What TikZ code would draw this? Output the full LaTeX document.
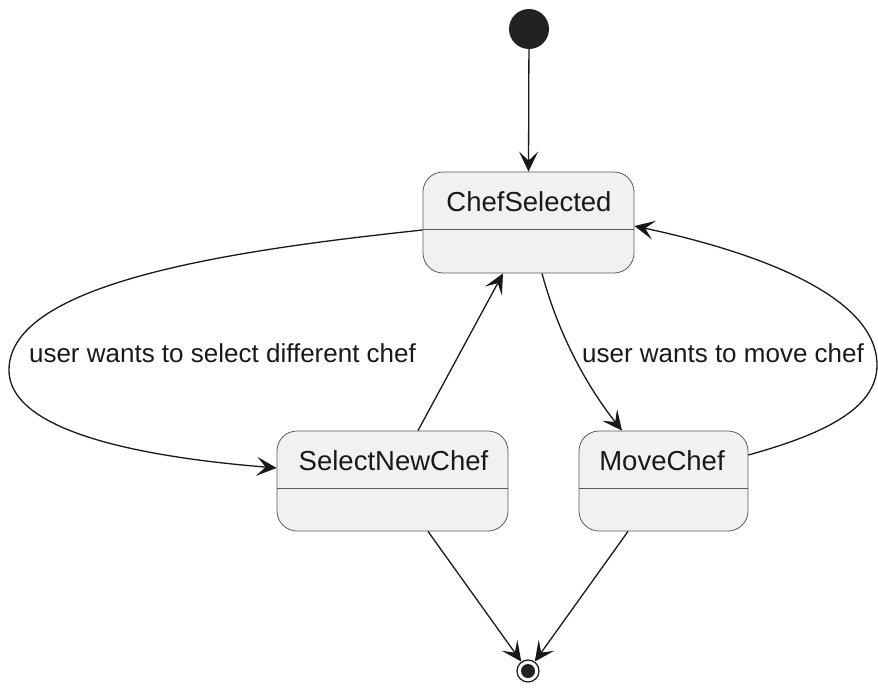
\documentclass[tikz,border=0pt]{standalone}
\usepackage{fontspec}
\setmainfont{Liberation Sans}
\usetikzlibrary{arrows.meta,calc}
\definecolor{statefill}{HTML}{F1F1F1}
\definecolor{lineclr}{HTML}{181818}
\definecolor{borderclr}{HTML}{5A5A5A}
\definecolor{dotclr}{HTML}{222222}
\begin{document}
\begin{tikzpicture}[x=1pt,y=-1pt,
  statebox/.style={draw=borderclr, line width=0.8pt, fill=statefill, rounded corners=20pt, inner sep=0pt},
  statename/.style={anchor=base, font=\fontsize{27.5}{33}\selectfont, text=black!90, inner sep=0pt},
  lbl/.style={anchor=base, font=\fontsize{26}{31}\selectfont, text=black!90, inner sep=0pt},
  conn/.style={draw=lineclr, line width=1.3pt, -{Stealth[length=20pt,width=19pt,inset=9pt]}},
  divider/.style={draw=borderclr, line width=0.8pt},
  startdot/.style={circle, fill=dotclr, minimum size=40pt, inner sep=0pt},
  enddot/.style={circle, draw=lineclr, line width=1.2pt, fill=white, minimum size=22pt, inner sep=0pt},
]
\useasboundingbox (0,0) rectangle (878,693);

% initial pseudo-state
\node[startdot] (start) at (529,29) {};

% states
\node[statebox, minimum width=211pt, minimum height=101pt] (cs) at (528.5,222.5) {};
\draw[divider] ($(cs.west)+(0,6.5)$) -- ($(cs.east)+(0,6.5)$);
\node[statename] (csname) at (529,211) {ChefSelected};

\node[statebox, minimum width=231pt, minimum height=100pt] (sn) at (392.5,481) {};
\draw[divider] ($(sn.west)+(0,7)$) -- ($(sn.east)+(0,7)$);
\node[statename] (snname) at (393.5,470) {SelectNewChef};

\node[statebox, minimum width=169pt, minimum height=100pt] (mc) at (663.5,481) {};
\draw[divider] ($(mc.west)+(0,7)$) -- ($(mc.east)+(0,7)$);
\node[statename] (mcname) at (662,470) {MoveChef};

% final pseudo-state
\node[enddot] (end) at (528,671) {};
\fill[dotclr] (end.center) circle (7pt);

% transitions
\draw[conn] (start) -- (cs.north);

\draw[conn] ($(cs.west)+(0,7.5)$) .. controls (235,250) and (9,282) .. (9,370)
  .. controls (9,440) and (180,460) .. ($(sn.west)+(0,-13)$);
\node[lbl] (lblsel) at (222.5,362) {user wants to select different chef};

\draw[conn] ($(sn.north)+(25.5,0)$) -- ($(cs.south)+(-25.5,0)$);

\draw[conn] ($(cs.south)+(13.5,0)$) .. controls (560,340) and (590,390) .. ($(mc.north)+(-41.5,0)$);
\node[lbl] (lblmove) at (723,362) {user wants to move chef};

\draw[conn] ($(mc.east)+(0,-26)$) .. controls (820,435) and (877,410) .. (877,365)
  .. controls (877,300) and (770,255) .. ($(cs.east)+(0,3.5)$);

\draw[conn] ($(sn.south)+(35.5,0)$) -- (end);
\draw[conn] ($(mc.south)+(-35.5,0)$) -- (end);
\end{tikzpicture}
\end{document}
